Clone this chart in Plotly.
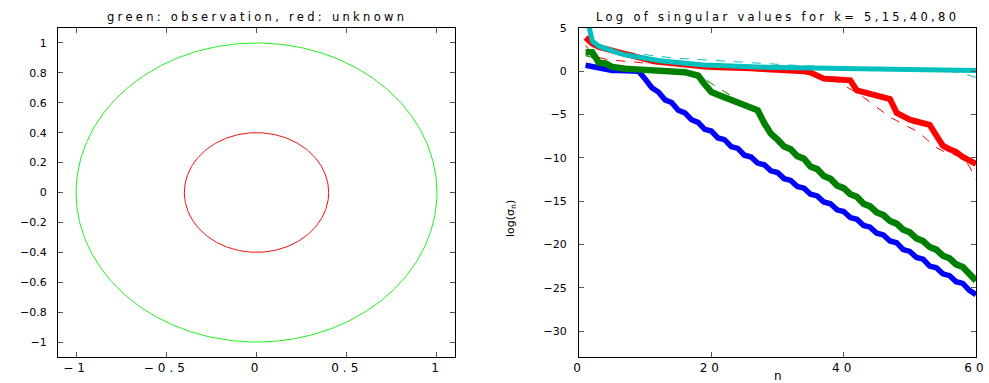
import numpy as np
import plotly.graph_objects as go

# ---------------- data ----------------
circle_radii = [1.0, 0.4]          # green: observation, red: unknown
circle_colors = ["#22ee22", "#ee1111"]

n_vals = list(range(1, 61))

blue_k5 = [0.7, 0.55, 0.25, 0.15, 0.1, 0.08, 0.05, 0.03, 0.0, -0.9,
           -1.9, -2.4, -3.3, -3.6, -4.5, -4.8, -5.6, -5.9, -6.7, -6.9,
           -7.7, -7.9, -8.7, -8.9, -9.7, -9.9, -10.6, -10.8, -11.5, -11.7,
           -12.4, -12.6, -13.3, -13.5, -14.2, -14.4, -15.1, -15.3, -16.0, -16.2,
           -16.9, -17.1, -17.8, -18.0, -18.7, -18.9, -19.6, -19.8, -20.6, -20.8,
           -21.5, -21.7, -22.5, -22.7, -23.4, -23.6, -24.3, -24.5, -25.3, -25.8]

green_k15 = [2.2, 2.2, 1.0, 0.9, 0.5, 0.35, 0.3, 0.25, 0.2, 0.2,
             0.15, 0.15, 0.1, 0.05, 0.0, -0.1, -0.3, -0.5, -1.5, -2.4,
             -2.7, -3.0, -3.3, -3.6, -3.9, -4.1, -4.5, -6.0, -7.2, -7.9,
             -8.7, -9.0, -9.8, -10.1, -11.0, -11.3, -12.1, -12.4, -13.2, -13.5,
             -14.2, -14.5, -15.3, -15.6, -16.3, -16.6, -17.3, -17.6, -18.3, -18.6,
             -19.3, -19.6, -20.3, -20.6, -21.3, -21.6, -22.3, -22.6, -23.4, -24.2]

red_k40 = [3.9, 3.2, 2.8, 2.6, 2.3, 2.1, 2.0, 1.8, 1.6, 1.4,
           1.2, 1.1, 1.0, 0.9, 0.8, 0.7, 0.65, 0.6, 0.55, 0.5,
           0.5, 0.45, 0.45, 0.42, 0.4, 0.35, 0.3, 0.28, 0.25, 0.2,
           0.15, 0.12, 0.05, 0.0, -0.15, -0.5, -0.85, -0.9, -0.95, -1.0,
           -1.05, -2.2, -2.4, -2.6, -2.8, -3.0, -3.2, -4.8, -5.3, -5.6,
           -5.8, -6.0, -6.2, -7.4, -8.6, -9.0, -9.3, -9.9, -10.3, -10.7]

cyan_k80 = [7.0, 3.5, 2.9, 2.6, 2.3, 2.1, 1.9, 1.75, 1.6, 1.45,
            1.35, 1.25, 1.15, 1.05, 0.95, 0.9, 0.82, 0.78, 0.72, 0.68,
            0.64, 0.6, 0.58, 0.55, 0.53, 0.5, 0.48, 0.46, 0.45, 0.44,
            0.43, 0.42, 0.4, 0.38, 0.36, 0.34, 0.32, 0.3, 0.28, 0.26,
            0.24, 0.23, 0.22, 0.21, 0.2, 0.19, 0.18, 0.17, 0.16, 0.15,
            0.14, 0.14, 0.13, 0.12, 0.12, 0.11, 0.11, 0.1, 0.1, 0.1]

# thin dashed comparison curves
blue_k5_ref = [0.6, 0.5, 0.25, 0.15, 0.1, 0.08, 0.05, 0.03, 0.0, -0.9,
               -1.9, -2.4, -3.3, -3.6, -4.5, -4.8, -5.6, -5.9, -6.7, -6.9,
               -7.7, -7.9, -8.7, -8.9, -9.7, -9.9, -10.6, -10.8, -11.5, -11.7,
               -12.4, -12.6, -13.3, -13.5, -14.2, -14.4, -15.1, -15.3, -16.0, -16.2,
               -16.9, -17.1, -17.8, -18.0, -18.7, -18.9, -19.6, -19.8, -20.6, -20.8,
               -21.5, -21.7, -22.5, -22.7, -23.4, -23.6, -24.3, -24.5, -25.3, -25.8]

green_k15_ref = [1.8, 1.6, 1.0, 0.8, 0.5, 0.35, 0.3, 0.25, 0.2, 0.2,
                 0.15, 0.15, 0.1, 0.05, 0.0, -0.1, -0.3, -0.6, -0.9, -1.4,
                 -1.9, -2.4, -2.9, -3.4, -3.8, -4.1, -4.6, -5.8, -7.0, -7.8,
                 -8.6, -9.0, -9.8, -10.1, -11.0, -11.3, -12.1, -12.4, -13.2, -13.5,
                 -14.2, -14.5, -15.3, -15.6, -16.3, -16.6, -17.3, -17.6, -18.3, -18.6,
                 -19.3, -19.6, -20.3, -20.6, -21.3, -21.6, -22.3, -22.6, -23.4, -24.2]

red_k40_ref = [3.0, 2.0, 1.6, 1.4, 1.3, 1.2, 1.15, 1.1, 1.0, 0.95,
               0.9, 0.85, 0.8, 0.75, 0.7, 0.65, 0.62, 0.58, 0.55, 0.5,
               0.5, 0.45, 0.45, 0.42, 0.4, 0.35, 0.3, 0.28, 0.25, 0.2,
               0.15, 0.12, 0.05, -0.1, -0.3, -0.5, -0.8, -1.0, -1.2, -1.6,
               -2.0, -2.5, -3.0, -3.6, -4.2, -4.8, -5.3, -5.7, -6.1, -6.5,
               -6.9, -7.5, -8.2, -8.8, -9.2, -9.5, -9.7, -9.9, -11.0, -12.5]

cyan_k80_ref = [5.5, 3.7, 3.1, 2.8, 2.5, 2.3, 2.2, 2.1, 2.0, 1.9,
                1.8, 1.7, 1.6, 1.55, 1.5, 1.45, 1.4, 1.35, 1.3, 1.25,
                1.2, 1.15, 1.1, 1.05, 1.0, 0.95, 0.9, 0.86, 0.82, 0.78,
                0.74, 0.7, 0.67, 0.64, 0.61, 0.58, 0.55, 0.52, 0.5, 0.48,
                0.46, 0.44, 0.42, 0.4, 0.38, 0.36, 0.34, 0.32, 0.3, 0.28,
                0.26, 0.23, 0.19, 0.14, 0.08, 0.0, -0.1, -0.25, -0.45, -0.7]

series = [
    ("k=5", blue_k5, blue_k5_ref, "#0000ff", 5.5),
    ("k=15", green_k15, green_k15_ref, "#008000", 6.5),
    ("k=40", red_k40, red_k40_ref, "#ff0000", 6),
    ("k=80", cyan_k80, cyan_k80_ref, "#00bfbf", 5),
]

left_xticks = [-1, -0.5, 0, 0.5, 1]
left_yticks = [-1, -0.8, -0.6, -0.4, -0.2, 0, 0.2, 0.4, 0.6, 0.8, 1]
right_xticks = [0, 20, 40, 60]
right_yticks = [5, 0, -5, -10, -15, -20, -25, -30]

title_left = "green: observation, red: unknown"
title_right = "Log of singular values for k= 5,15,40,80"

# ---------------- figure ----------------
FONT = "DejaVu Sans, Verdana, sans-serif"
W, H = 989, 383


def spaced(s, px):
    return f'<span style="letter-spacing:{px}px">{s}</span>'


def fmt(v):
    s = f"{v:g}"
    return s.replace("-", "\u2212")


fig = go.Figure()

theta = np.linspace(0, 2 * np.pi, 400)
for r, c in zip(circle_radii, circle_colors):
    fig.add_trace(go.Scatter(x=r * np.cos(theta), y=r * np.sin(theta), mode="lines",
                             line=dict(color=c, width=1), xaxis="x", yaxis="y",
                             showlegend=False, hoverinfo="skip"))

for name, vals, ref, col, lw in series:
    fig.add_trace(go.Scatter(x=n_vals, y=ref, mode="lines",
                             line=dict(color=col, width=1, dash="dash"),
                             xaxis="x2", yaxis="y2", showlegend=False))
for name, vals, ref, col, lw in series:
    fig.add_trace(go.Scatter(x=n_vals, y=vals, mode="lines", name=name,
                             line=dict(color=col, width=lw),
                             xaxis="x2", yaxis="y2", showlegend=False))

ax_common = dict(showline=True, linecolor="black", linewidth=1, mirror="ticks",
                 ticks="inside", ticklen=5, tickcolor="#555", showgrid=False,
                 zeroline=False, automargin=False)
xfont = dict(family=FONT, size=12, color="black")
yfont = dict(family=FONT, size=11, color="black")

ydom = [1 - 357 / H, 1 - 28 / H]
fig.update_layout(
    width=W, height=H,
    margin=dict(l=0, r=0, t=0, b=0, pad=0, autoexpand=False),
    paper_bgcolor="white", plot_bgcolor="white",
    font=dict(family=FONT, size=11, color="black"),
    xaxis=dict(domain=[58 / W, 455 / W], range=[-1.1, 1.1],
               tickvals=left_xticks, ticktext=[spaced(fmt(v), 4) for v in left_xticks],
               tickfont=xfont, anchor="y", **ax_common),
    yaxis=dict(domain=ydom, range=[-1.1, 1.1], tickvals=left_yticks,
               ticktext=[fmt(v) for v in left_yticks], tickfont=yfont,
               ticklabelstandoff=8, anchor="x", **ax_common),
    xaxis2=dict(domain=[579 / W, 976 / W], range=[0, 60],
                tickvals=right_xticks, ticktext=[spaced(fmt(v), 4) for v in right_xticks],
                tickfont=xfont, anchor="y2", **ax_common),
    yaxis2=dict(domain=ydom, range=[-33, 5], tickvals=right_yticks,
                ticktext=[fmt(v) for v in right_yticks], tickfont=yfont,
                ticklabelstandoff=9, anchor="x2", **ax_common),
    annotations=[
        dict(text=spaced(title_left, 3.3), x=(58 + 455) / 2 / W,
             y=1 - 17 / H, xref="paper", yref="paper", showarrow=False,
             font=dict(family=FONT, size=11.5), xanchor="center", yanchor="middle"),
        dict(text=spaced(title_right, 3.3), x=(579 + 976) / 2 / W,
             y=1 - 17 / H, xref="paper", yref="paper", showarrow=False,
             font=dict(family=FONT, size=11.5), xanchor="center", yanchor="middle"),
        dict(text="log(σ<sub>n</sub>)", x=511 / W, y=1 - 218 / H, xref="paper",
             yref="paper", showarrow=False, textangle=-90,
             font=dict(family=FONT, size=11), xanchor="center", yanchor="middle"),
        dict(text="n", x=778 / W, y=1 - 376 / H, xref="paper", yref="paper",
             showarrow=False, font=dict(family=FONT, size=12),
             xanchor="center", yanchor="middle"),
    ],
)

fig.write_html("out.html")
